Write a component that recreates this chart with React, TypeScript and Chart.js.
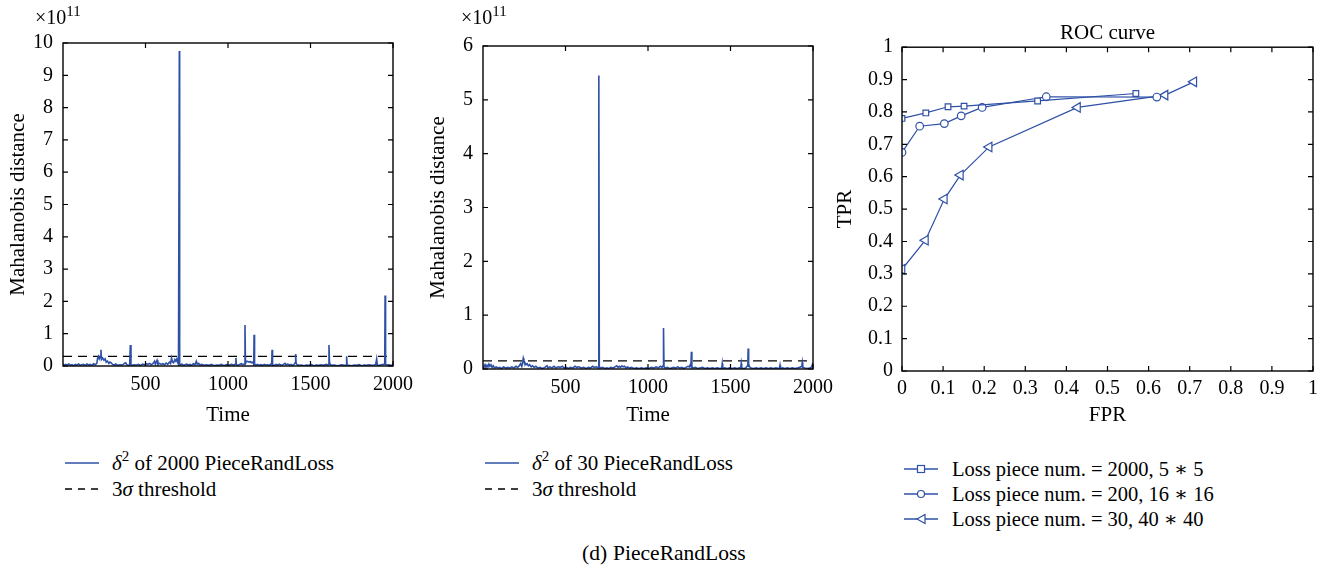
import React, { useEffect, useRef } from 'react';
import { Chart, registerables } from 'chart.js';

Chart.register(...registerables);

const FONT = '"Liberation Serif", "DejaVu Serif", serif';
const BLUE = '#2e50a6';

// ---------- data ----------
const TIME_X_TICKS = [500, 1000, 1500, 2000];
const D1_Y_TICKS = [0, 1, 2, 3, 4, 5, 6, 7, 8, 9, 10];
const D2_Y_TICKS = [0, 1, 2, 3, 4, 5, 6];
const ROC_TICKS = [0, 0.1, 0.2, 0.3, 0.4, 0.5, 0.6, 0.7, 0.8, 0.9, 1];

// δ² of 2000 PieceRandLoss (×10^11)
const D1_TIME = [0, 8, 15, 25, 35, 45, 55, 65, 75, 85, 95, 105, 115, 125, 135, 145, 155, 165, 175, 185, 195,
  205, 210, 215, 220, 226, 230, 233, 240, 248, 255, 262, 270, 278, 285, 292, 300, 310, 320, 330, 345, 360, 372, 380, 386, 395, 404, 408, 412,
  420, 432, 445, 458, 470, 482, 495, 505, 515, 525, 535, 545, 555, 560, 570, 575, 585, 595, 605, 615, 625, 635, 645, 652, 658, 664, 670, 678, 684, 690, 696, 700, 703, 705, 707,
  712, 720, 730, 740, 750, 760, 770, 780, 790, 800, 808, 814, 822, 830, 840, 855, 870, 885, 900, 915, 930, 945, 960, 975, 990, 1005, 1020, 1035, 1045, 1048, 1051,
  1060, 1070, 1080, 1090, 1098, 1103, 1106, 1112, 1120, 1128, 1135, 1142, 1150, 1156, 1158, 1161, 1170, 1180, 1190, 1200, 1210, 1220, 1230, 1240, 1250, 1260, 1265, 1267, 1270,
  1280, 1290, 1300, 1312, 1324, 1336, 1345, 1352, 1362, 1372, 1382, 1392, 1402, 1407, 1410, 1413, 1420, 1430, 1445, 1460, 1475, 1490, 1505, 1520, 1535, 1550, 1565, 1580, 1595,
  1605, 1610, 1612, 1615, 1620, 1630, 1645, 1660, 1675, 1690, 1705, 1716, 1719, 1722, 1735, 1750, 1765, 1780, 1795, 1810, 1825, 1840, 1855, 1870, 1885, 1895, 1901, 1905,
  1915, 1930, 1945, 1950, 1952, 1955, 1965, 1975, 1985, 2000];
const D1_DIST = [0.06, 0.02, 0.05, 0.03, 0.06, 0.02, 0.04, 0.01, 0.05, 0.03, 0.06, 0.02, 0.04, 0.05, 0.02, 0.06, 0.03, 0.05, 0.02, 0.07, 0.04,
  0.08, 0.25, 0.3, 0.22, 0.28, 0.5, 0.2, 0.25, 0.18, 0.22, 0.12, 0.15, 0.08, 0.12, 0.1, 0.05, 0.03, 0.06, 0.02, 0.04, 0.03, 0.08, 0.1, 0.04, 0.02, 0.03, 0.65, 0.05,
  0.02, 0.04, 0.03, 0.05, 0.02, 0.06, 0.04, 0.07, 0.05, 0.08, 0.04, 0.07, 0.15, 0.05, 0.18, 0.06, 0.08, 0.05, 0.07, 0.04, 0.09, 0.05, 0.12, 0.08, 0.25, 0.12, 0.1, 0.2, 0.15, 0.22, 0.1, 0.05, 0.05, 9.75, 0.05,
  0.03, 0.06, 0.02, 0.04, 0.06, 0.03, 0.05, 0.02, 0.07, 0.04, 0.15, 0.05, 0.08, 0.03, 0.05, 0.02, 0.04, 0.02, 0.05, 0.01, 0.03, 0.02, 0.05, 0.01, 0.04, 0.02, 0.05, 0.03, 0.06, 0.25, 0.04,
  0.02, 0.05, 0.07, 0.04, 0.06, 1.27, 0.08, 0.15, 0.14, 0.12, 0.14, 0.1, 0.12, 0.05, 0.97, 0.06, 0.03, 0.05, 0.02, 0.04, 0.02, 0.05, 0.03, 0.04, 0.02, 0.06, 0.04, 0.5, 0.03,
  0.02, 0.05, 0.03, 0.06, 0.02, 0.05, 0.08, 0.04, 0.06, 0.03, 0.05, 0.02, 0.06, 0.1, 0.37, 0.08, 0.04, 0.02, 0.03, 0.01, 0.03, 0.02, 0.04, 0.01, 0.03, 0.02, 0.04, 0.02, 0.05,
  0.03, 0.05, 0.65, 0.12, 0.04, 0.02, 0.03, 0.01, 0.02, 0.04, 0.02, 0.03, 0.3, 0.03, 0.02, 0.01, 0.03, 0.02, 0.04, 0.01, 0.03, 0.02, 0.04, 0.02, 0.03, 0.05, 0.22, 0.03,
  0.02, 0.04, 0.05, 0.06, 2.18, 0.05, 0.03, 0.04, 0.02, 0.03];
const D1_THRESHOLD = 0.3;

// δ² of 30 PieceRandLoss (×10^11)
const D2_TIME = [0, 6, 12, 18, 24, 30, 36, 42, 48, 55, 62, 70, 80, 90, 100, 112, 125, 138, 150, 162, 175, 188, 200, 210, 220, 228, 235, 240, 244, 248, 254, 260,
  268, 275, 283, 292, 300, 310, 320, 332, 345, 360, 375, 388, 394, 405, 418, 430, 442, 455, 468, 480, 492, 505, 518, 530, 545, 558, 570, 582, 595, 610, 625, 640, 652,
  665, 675, 688, 698, 701, 703, 705, 712, 725, 738, 750, 762, 775, 790, 800, 810, 818, 826, 834, 842, 850, 858, 866, 875, 888, 900, 915, 930, 945, 960, 975, 990, 1005,
  1020, 1035, 1050, 1062, 1075, 1085, 1091, 1094, 1097, 1105, 1118, 1130, 1142, 1155, 1168, 1180, 1192, 1205, 1218, 1230, 1242, 1250, 1256, 1260, 1263, 1266, 1275, 1288,
  1300, 1315, 1330, 1345, 1360, 1375, 1390, 1405, 1420, 1435, 1447, 1450, 1453, 1465, 1480, 1495, 1510, 1525, 1540, 1555, 1562, 1565, 1568, 1580, 1592, 1600, 1605, 1607,
  1610, 1615, 1625, 1640, 1655, 1670, 1685, 1700, 1715, 1730, 1745, 1760, 1775, 1790, 1797, 1800, 1803, 1815, 1830, 1845, 1860, 1875, 1890, 1905, 1920, 1932, 1935, 1938,
  1950, 1965, 1980, 1992, 1996, 2000];
const D2_DIST = [0.02, 0.05, 0.08, 0.03, 0.07, 0.04, 0.09, 0.05, 0.08, 0.03, 0.06, 0.02, 0.04, 0.02, 0.03, 0.01, 0.04, 0.02, 0.03, 0.02, 0.04, 0.02, 0.05, 0.03, 0.06, 0.1, 0.05, 0.12, 0.2, 0.15, 0.12, 0.08,
  0.1, 0.06, 0.08, 0.04, 0.06, 0.03, 0.05, 0.02, 0.03, 0.01, 0.03, 0.06, 0.02, 0.04, 0.02, 0.05, 0.02, 0.04, 0.03, 0.05, 0.02, 0.03, 0.01, 0.03, 0.02, 0.05, 0.03, 0.04, 0.02, 0.03, 0.01, 0.03, 0.02,
  0.05, 0.03, 0.04, 0.02, 0.05, 5.45, 0.04, 0.02, 0.03, 0.01, 0.02, 0.01, 0.03, 0.02, 0.04, 0.06, 0.03, 0.05, 0.03, 0.06, 0.04, 0.05, 0.02, 0.04, 0.02, 0.03, 0.01, 0.02, 0.01, 0.02, 0.01, 0.02, 0.01,
  0.03, 0.02, 0.04, 0.02, 0.05, 0.03, 0.06, 0.76, 0.04, 0.02, 0.03, 0.01, 0.02, 0.03, 0.02, 0.04, 0.02, 0.03, 0.01, 0.03, 0.05, 0.04, 0.08, 0.05, 0.32, 0.04, 0.02, 0.03,
  0.01, 0.02, 0.03, 0.01, 0.02, 0.01, 0.02, 0.01, 0.02, 0.01, 0.02, 0.1, 0.01, 0.02, 0.01, 0.02, 0.01, 0.02, 0.01, 0.02, 0.02, 0.1, 0.02, 0.01, 0.02, 0.05, 0.08, 0.38,
  0.1, 0.04, 0.02, 0.01, 0.02, 0.01, 0.02, 0.01, 0.02, 0.01, 0.02, 0.01, 0.02, 0.01, 0.02, 0.07, 0.01, 0.02, 0.01, 0.02, 0.01, 0.02, 0.01, 0.02, 0.03, 0.05, 0.12, 0.03,
  0.02, 0.01, 0.02, 0.04, 0.08, 0.12];
const D2_THRESHOLD = 0.15;

// ROC curves
const ROC_SQ_FPR = [0.0, 0.058, 0.112, 0.151, 0.33, 0.569];
const ROC_SQ_TPR = [0.78, 0.797, 0.816, 0.818, 0.834, 0.857];
const ROC_CI_FPR = [0.0, 0.043, 0.103, 0.144, 0.195, 0.351, 0.62];
const ROC_CI_TPR = [0.675, 0.756, 0.764, 0.788, 0.814, 0.847, 0.846];
const ROC_TR_FPR = [0.0, 0.057, 0.103, 0.142, 0.212, 0.427, 0.64, 0.71];
const ROC_TR_TPR = [0.314, 0.404, 0.531, 0.605, 0.692, 0.814, 0.852, 0.893];

// ---------- helpers ----------
const pts = (xs: number[], ys: number[]) => xs.map((x, i) => ({ x, y: ys[i] }));

const framePlugin = {
  id: 'matlabFrame',
  afterDatasetsDraw(chart: any) {
    const { ctx, chartArea: a, scales } = chart;
    const xs = scales.x;
    const ys = scales.y;
    const L = 5;
    ctx.save();
    ctx.strokeStyle = '#000';
    ctx.lineWidth = 1.2;
    ctx.beginPath();
    xs.ticks.forEach((t: any) => {
      const p = xs.getPixelForValue(t.value);
      ctx.moveTo(p, a.bottom);
      ctx.lineTo(p, a.bottom - L);
      ctx.moveTo(p, a.top);
      ctx.lineTo(p, a.top + L);
    });
    ys.ticks.forEach((t: any) => {
      const p = ys.getPixelForValue(t.value);
      ctx.moveTo(a.left, p);
      ctx.lineTo(a.left + L, p);
      ctx.moveTo(a.right, p);
      ctx.lineTo(a.right - L, p);
    });
    ctx.stroke();
    ctx.lineWidth = 1.4;
    ctx.strokeRect(a.left, a.top, a.right - a.left, a.bottom - a.top);
    ctx.restore();
  },
};

type AxisCfg = {
  min: number;
  max: number;
  ticks: number[];
  title: string;
  size: number;
  tickPad: number;
  titlePad: number;
};

function buildOptions(
  xc: AxisCfg,
  yc: AxisCfg,
  padding: { left: number; top: number; right: number; bottom: number },
  title?: string
): any {
  const tickFont = { family: FONT, size: 20 };
  return {
    animation: false,
    responsive: true,
    maintainAspectRatio: false,
    layout: { padding },
    plugins: {
      legend: { display: false },
      tooltip: { enabled: false },
      title: title
        ? {
            display: true,
            text: title,
            color: '#000',
            fullSize: false,
            font: { family: FONT, size: 21, weight: 'normal' },
            padding: { top: 21, bottom: 1 },
          }
        : { display: false },
    },
    scales: {
      x: {
        type: 'linear',
        min: xc.min,
        max: xc.max,
        afterBuildTicks: (s: any) => {
          s.ticks = xc.ticks.map((v) => ({ value: v }));
        },
        afterFit: (s: any) => {
          s.height = xc.size;
        },
        grid: { display: false, drawTicks: false },
        border: { display: false },
        ticks: {
          color: '#000',
          font: tickFont,
          padding: xc.tickPad,
          maxRotation: 0,
          autoSkip: false,
          callback: (v: number) => String(v),
        },
        title: {
          display: true,
          text: xc.title,
          color: '#000',
          font: { family: FONT, size: 21 },
          padding: { top: 0, bottom: xc.titlePad },
        },
      },
      y: {
        type: 'linear',
        min: yc.min,
        max: yc.max,
        afterBuildTicks: (s: any) => {
          s.ticks = yc.ticks.map((v) => ({ value: v }));
        },
        afterFit: (s: any) => {
          s.width = yc.size;
        },
        grid: { display: false, drawTicks: false },
        border: { display: false },
        ticks: {
          color: '#000',
          font: tickFont,
          padding: yc.tickPad,
          autoSkip: false,
          callback: (v: number) => String(v),
        },
        title: {
          display: true,
          text: yc.title,
          color: '#000',
          font: { family: FONT, size: 21 },
          padding: { top: yc.titlePad, bottom: 0 },
        },
      },
    },
  };
}

function ChartBox({ left, top, width, height, config }: any) {
  const ref = useRef<HTMLCanvasElement | null>(null);
  useEffect(() => {
    if (!ref.current) return;
    const chart = new Chart(ref.current, config);
    return () => chart.destroy();
  }, []);
  return (
    <div style={{ position: 'absolute', left, top, width, height }}>
      <canvas ref={ref} />
    </div>
  );
}

const timeConfig = (times: number[], dist: number[], thr: number, yTicks: number[], yMax: number, pad: any) => ({
  type: 'line',
  data: {
    datasets: [
      {
        data: pts(times, dist),
        borderColor: BLUE,
        borderWidth: 1.6,
        pointRadius: 0,
        tension: 0,
      },
      {
        data: pts([0, 2000], [thr, thr]),
        borderColor: '#000',
        borderWidth: 1.3,
        borderDash: [9, 6],
        pointRadius: 0,
      },
    ],
  },
  options: buildOptions(
    { min: 0, max: 2000, ticks: TIME_X_TICKS, title: 'Time', size: pad.xSize, tickPad: 7, titlePad: 0 },
    { min: 0, max: yMax, ticks: yTicks, title: 'Mahalanobis distance', size: 63, tickPad: 10, titlePad: 6 },
    pad.p
  ),
  plugins: [framePlugin],
});

const rocDataset = (xs: number[], ys: number[], style: string, radius: number, rotation = 0) => ({
  data: pts(xs, ys),
  borderColor: BLUE,
  borderWidth: 1.2,
  pointStyle: style,
  pointRadius: radius,
  pointRotation: rotation,
  pointBorderColor: BLUE,
  pointBorderWidth: 1.2,
  pointBackgroundColor: '#fff',
  tension: 0,
});

const rocConfig = {
  type: 'line',
  data: {
    datasets: [
      rocDataset(ROC_SQ_FPR, ROC_SQ_TPR, 'rect', 4),
      rocDataset(ROC_CI_FPR, ROC_CI_TPR, 'circle', 3.8),
      rocDataset(ROC_TR_FPR, ROC_TR_TPR, 'triangle', 5.5, -90),
    ],
  },
  options: buildOptions(
    { min: 0, max: 1, ticks: ROC_TICKS, title: 'FPR', size: 57, tickPad: 6, titlePad: 0 },
    { min: 0, max: 1, ticks: ROC_TICKS, title: 'TPR', size: 72, tickPad: 9, titlePad: 3 },
    { left: 0, top: 0, right: 19, bottom: 12 },
    'ROC curve'
  ),
  plugins: [framePlugin],
};

const cfg1 = timeConfig(D1_TIME, D1_DIST, D1_THRESHOLD, D1_Y_TICKS, 10, {
  p: { left: 0, top: 43, right: 27, bottom: 12 },
  xSize: 62,
});
const cfg2 = timeConfig(D2_TIME, D2_DIST, D2_THRESHOLD, D2_Y_TICKS, 6, {
  p: { left: 0, top: 46, right: 26, bottom: 12 },
  xSize: 59,
});

// ---------- legends ----------
const textStyle = (size: number): React.CSSProperties => ({ fontFamily: FONT, fontSize: size, color: '#000', whiteSpace: 'nowrap' });

function Row({ top, left, icon, size, children }: any) {
  return (
    <div style={{ position: 'absolute', left, top: top - 13, height: 26, display: 'flex', alignItems: 'center', ...textStyle(size) }}>
      {icon}
      {children}
    </div>
  );
}

const SolidIcon = () => (
  <svg width={34} height={10} style={{ display: 'block' }}>
    <line x1={0} y1={5} x2={34} y2={5} stroke={BLUE} strokeWidth={1.5} />
  </svg>
);
const DashIcon = () => (
  <svg width={34} height={10} style={{ display: 'block' }}>
    <line x1={0} y1={5} x2={34} y2={5} stroke="#000" strokeWidth={1.3} strokeDasharray="7 6" />
  </svg>
);
const MarkerIcon = ({ kind }: { kind: string }) => (
  <svg width={34} height={14} style={{ display: 'block' }}>
    <line x1={0} y1={7} x2={34} y2={7} stroke={BLUE} strokeWidth={1.3} />
    {kind === 'sq' && <rect x={13.5} y={3.5} width={7} height={7} fill="#fff" stroke={BLUE} strokeWidth={1.2} />}
    {kind === 'ci' && <circle cx={17} cy={7} r={3.5} fill="#fff" stroke={BLUE} strokeWidth={1.2} />}
    {kind === 'tr' && <polygon points="13,7 21,2.5 21,11.5" fill="#fff" stroke={BLUE} strokeWidth={1.2} />}
  </svg>
);

const Delta = () => (
  <span>
    <i>δ</i>
    <span style={{ fontSize: 15, position: 'relative', top: -9 }}>2</span>
  </span>
);

const Exp = ({ left }: { left: number }) => (
  <div style={{ position: 'absolute', left, top: 6, ...textStyle(20) }}>
    ×10<span style={{ fontSize: 15, position: 'relative', top: -8 }}>11</span>
  </div>
);

export default function App() {
  return (
    <div style={{ position: 'fixed', left: 0, top: 0, width: 1332, height: 573, background: '#fff', overflow: 'hidden' }}>
      <ChartBox left={0} top={0} width={420} height={440} config={cfg1} />
      <ChartBox left={420} top={0} width={420} height={440} config={cfg2} />
      <ChartBox left={830} top={0} width={502} height={440} config={rocConfig} />
      <Exp left={35} />
      <Exp left={461} />

      <Row top={463} left={65} size={21} icon={<SolidIcon />}>
        <span style={{ marginLeft: 13 }}>
          <Delta /> of 2000 PieceRandLoss
        </span>
      </Row>
      <Row top={489} left={65} size={21} icon={<DashIcon />}>
        <span style={{ marginLeft: 13 }}>
          3<i>σ</i> threshold
        </span>
      </Row>
      <Row top={463} left={485} size={21} icon={<SolidIcon />}>
        <span style={{ marginLeft: 13 }}>
          <Delta /> of 30 PieceRandLoss
        </span>
      </Row>
      <Row top={489} left={485} size={21} icon={<DashIcon />}>
        <span style={{ marginLeft: 13 }}>
          3<i>σ</i> threshold
        </span>
      </Row>

      <Row top={469} left={904} size={20.5} icon={<MarkerIcon kind="sq" />}>
        <span style={{ marginLeft: 14 }}>Loss piece num. = 2000, 5 ∗ 5</span>
      </Row>
      <Row top={494} left={904} size={20.5} icon={<MarkerIcon kind="ci" />}>
        <span style={{ marginLeft: 14 }}>Loss piece num. = 200, 16 ∗ 16</span>
      </Row>
      <Row top={519} left={904} size={20.5} icon={<MarkerIcon kind="tr" />}>
        <span style={{ marginLeft: 14 }}>Loss piece num. = 30, 40 ∗ 40</span>
      </Row>

      <div style={{ position: 'absolute', left: 582, top: 540, height: 26, display: 'flex', alignItems: 'center', ...textStyle(21.5) }}>
        <span>(d)</span>
        <span style={{ marginLeft: 6 }}>PieceRandLoss</span>
      </div>
    </div>
  );
}
